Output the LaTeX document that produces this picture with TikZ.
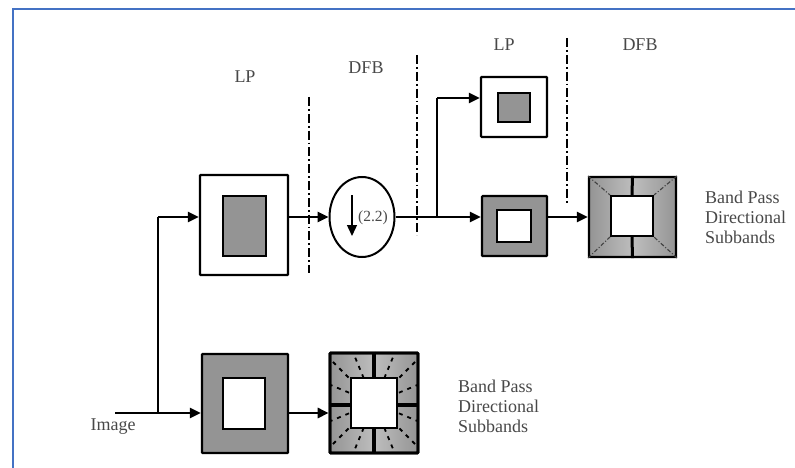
\documentclass[tikz,border=0pt]{standalone}
\usepackage{fontspec}
\setmainfont{Liberation Serif}
\usetikzlibrary{arrows.meta,shapes.geometric,calc}
\definecolor{bord}{RGB}{68,114,196}
\definecolor{boxg}{RGB}{148,148,148}
\definecolor{lightg}{RGB}{190,190,190}
\definecolor{txt}{RGB}{72,72,72}
\begin{document}
\begin{tikzpicture}[x=1pt,y=-1pt,
  outerbox/.style={draw=black,line width=2.2pt,rectangle,inner sep=0pt,rounded corners=0.8pt},
  innerbox/.style={draw=black,line width=2.2pt,rectangle,inner sep=0pt},
  conn/.style={line width=2.6pt},
  arr/.style={conn,-{Triangle[length=11pt,width=10pt]}},
  sep/.style={line width=2pt,dash pattern=on 9pt off 3pt on 1.8pt off 3pt},
  lbl/.style={text=txt,font=\fontsize{18}{20}\selectfont,inner sep=0pt},
  desc/.style={lbl,align=left,anchor=west}]
\useasboundingbox (0,0) rectangle (795,468);
% frame
\draw[bord,line width=2.5pt] (13,468) -- (13,9) -- (795,9);

% ---- shaded backgrounds for the DFB boxes
\shade[left color=boxg,right color=lightg] (589,177) rectangle (633,257);
\shade[left color=lightg,right color=boxg] (633,177) rectangle (676,257);
\shade[left color=boxg,right color=lightg] (330,353) rectangle (374,453);
\shade[left color=lightg,right color=boxg] (374,353) rectangle (418,453);
% radial dashes in lower DFB
\begin{scope}
  \clip (330,353) rectangle (418,453);
  \foreach \a in {22.5,45,67.5,112.5,135,157.5,202.5,225,247.5,292.5,315,337.5}
    \draw[line width=1.8pt,dash pattern=on 4pt off 5pt] (374,403) -- ++(\a:80);
\end{scope}

% ---- nodes
\node[outerbox,minimum width=88pt,minimum height=100pt] (lp1) at (244,225) {};
\node[innerbox,fill=boxg,minimum width=43pt,minimum height=60pt] (lp1i) at (244.5,226) {};
\node[ellipse,draw=black,line width=2pt,minimum width=65pt,minimum height=80pt,inner sep=0pt] (ds) at (362,217) {};
\node[outerbox,minimum width=66pt,minimum height=60pt] (lp2a) at (514,107) {};
\node[innerbox,fill=boxg,minimum width=32pt,minimum height=29pt] (lp2ai) at (514,107.5) {};
\node[outerbox,fill=boxg,minimum width=65pt,minimum height=60pt] (lp2b) at (514.5,226) {};
\node[innerbox,fill=white,minimum width=34pt,minimum height=32pt] (lp2bi) at (514,226) {};
\node[outerbox,minimum width=87pt,minimum height=80pt] (dfb2) at (632.5,217) {};
\node[innerbox,fill=white,minimum width=42pt,minimum height=40pt] (dfb2i) at (632,216) {};
\node[outerbox,fill=boxg,minimum width=86pt,minimum height=99pt] (lp0) at (245,403.5) {};
\node[innerbox,fill=white,minimum width=42pt,minimum height=51pt] (lp0i) at (244,403.5) {};
\node[outerbox,line width=2.6pt,minimum width=88pt,minimum height=100pt] (dfb0) at (374,403) {};
\node[innerbox,fill=white,minimum width=46pt,minimum height=50pt] (dfb0i) at (374,403) {};

% bars and diagonals of DFB boxes
\draw[line width=3pt] (dfb2.north) -- (dfb2i.north) (dfb2i.south) -- (dfb2.south);
\draw[gray!50!black,line width=1.1pt,dash pattern=on 4pt off 2pt on 1pt off 2pt]
  (dfb2.north west) -- (dfb2i.north west) (dfb2.north east) -- (dfb2i.north east)
  (dfb2.south west) -- (dfb2i.south west) (dfb2.south east) -- (dfb2i.south east);
\draw[line width=4pt] (dfb0.north) -- (dfb0i.north) (dfb0i.south) -- (dfb0.south)
  (dfb0.west |- 0,405) -- (dfb0i.west |- 0,405) (dfb0i.east |- 0,405) -- (dfb0.east |- 0,405);
\node[outerbox,line width=2.6pt,minimum width=88pt,minimum height=100pt] at (374,403) {};

% down-sampler
\coordinate (dtop) at (352,195);
\coordinate (dbot) at (352,236);
\draw[line width=1.4pt,-{Triangle[length=11pt,width=10pt]}] (dtop) -- (dbot);
\node[text=txt,font=\fontsize{15.5}{17}\selectfont,inner sep=0pt] (dsl) at (373,218) {(2.2)};

% ---- connectors
\coordinate (img) at (115,413);
\coordinate (j1) at (158,413);
\coordinate (j1t) at (158,217);
\coordinate (j2) at (437,217);
\coordinate (j2t) at (437,98);
\draw[arr] (img) -- (lp0.west |- img);
\draw[conn] (j1) -- (j1t);
\draw[arr] (j1t) -- (lp1.west |- j1t);
\draw[arr] (lp0.east |- img) -- (dfb0.west |- img);
\draw[arr] (lp1.east |- ds.west) -- (ds.west);
\draw[conn] (ds.east) -- (j2);
\draw[conn] (j2) -- (j2t);
\draw[arr] (j2t) -- (lp2a.west |- j2t);
\draw[arr] (j2) -- (lp2b.west |- j2);
\draw[arr] (lp2b.east |- j2) -- (dfb2.west |- j2);

% ---- separators
\coordinate (s1a) at (309,97);  \coordinate (s1b) at (309,273);
\coordinate (s2a) at (417,55);  \coordinate (s2b) at (417,235);
\coordinate (s3a) at (567,38);  \coordinate (s3b) at (567,205);
\draw[sep] (s1a) -- (s1b);
\draw[sep] (s2a) -- (s2b);
\draw[sep] (s3a) -- (s3b);

% ---- labels
\node[lbl] (t1) at (245,77) {LP};
\node[lbl] (t2) at (366,68) {DFB};
\node[lbl] (t3) at (504,45) {LP};
\node[lbl] (t4) at (640,45) {DFB};
\node[lbl] (t5) at (113,427) {Image};
\node[desc] (t6) at (705,217) {Band Pass\\Directional\\Subbands};
\node[desc] (t7) at (458,406) {Band Pass\\Directional\\Subbands};
\end{tikzpicture}
\end{document}
